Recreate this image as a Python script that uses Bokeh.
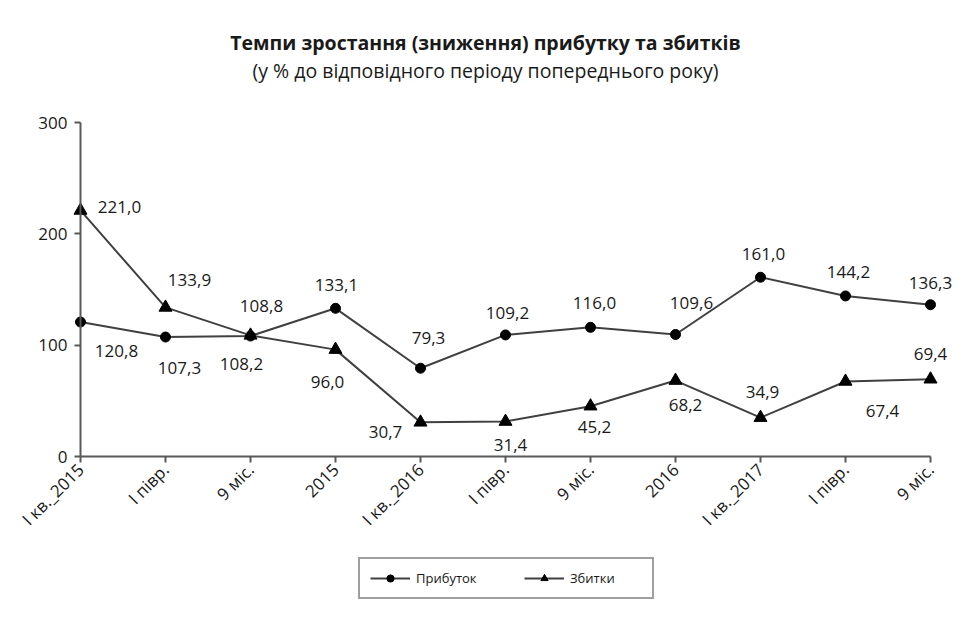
import math
from bokeh.plotting import figure
from bokeh.models import (ColumnDataSource, FixedTicker, LabelSet, Label, Legend, LegendItem)
from bokeh.core.properties import value
from bokeh.embed import file_html
from bokeh.resources import INLINE

# ---- data ----
categories = ["I кв._2015", "I півр.", "9 міс.", "2015", "I кв._2016", "I півр.",
              "9 міс.", "2016", "I кв._2017", "I півр.", "9 міс."]
profit = [120.8, 107.3, 108.2, 133.1, 79.3, 109.2, 116.0, 109.6, 161.0, 144.2, 136.3]
losses = [221.0, 133.9, 108.8, 96.0, 30.7, 31.4, 45.2, 68.2, 34.9, 67.4, 69.4]
profit_labels = ["120,8", "107,3", "108,2", "133,1", "79,3", "109,2", "116,0", "109,6", "161,0", "144,2", "136,3"]
losses_labels = ["221,0", "133,9", "108,8", "96,0", "30,7", "31,4", "45,2", "68,2", "34,9", "67,4", "69,4"]
y_ticks = [0, 100, 200, 300]
title_text = "Темпи зростання (зниження) прибутку та збитків"
subtitle_text = "(у % до відповідного періоду попереднього року)"

# label offsets in screen pixels (styling)
profit_dx = [36, 14, -9, 1, 8, 2, 4, 16, 3, 3, 0]
profit_dy = [-29, -31, -28, 23, 30, 22, 24, 31, 23, 24, 22]
losses_dx = [39, 24, 11, -8, -35, 5, 4, 10, 2, 37, 0]
losses_dy = [3, 27, 29, -32, -10, -23, -21, -24, 26, -30, 25]

xs = list(range(len(categories)))

FONT = "Open Sans"
TXT = "#1a1a1a"
LINE = "#404040"
AXIS = "#595959"

# layout (pixels)
W, H = 953, 620
AXIS_LEFT_PX = 80           # pixel position of the first category / y axis
LAST_TICK_PX = 930          # pixel position of the last category
Y_TOP_PX = 122              # pixel position of y = 300
Y_ZERO_PX = 456             # pixel position of y = 0
n = len(categories) - 1
px_per_x = (LAST_TICK_PX - AXIS_LEFT_PX) / n
x_start = -AXIS_LEFT_PX / px_per_x
x_end = (W - AXIS_LEFT_PX) / px_per_x
px_per_y = (Y_ZERO_PX - Y_TOP_PX) / y_ticks[-1]
y_start = -(H - Y_ZERO_PX) / px_per_y
y_end = Y_ZERO_PX / px_per_y

def data_x(px):
    return (px - AXIS_LEFT_PX) / px_per_x

def data_y(py):
    return (Y_ZERO_PX - py) / px_per_y

p = figure(width=W, height=H, output_backend="svg", toolbar_location=None,
           x_range=(x_start, x_end), y_range=(y_start, y_end),
           min_border_left=0, min_border_right=0, min_border_top=0, min_border_bottom=0)
p.outline_line_color = None
p.xgrid.visible = False
p.ygrid.visible = False
p.background_fill_color = "white"
p.border_fill_color = "white"

# titles
p.add_layout(Label(x=data_x(485), y=data_y(42), text=title_text, text_align="center",
                   text_baseline="middle", text_font=FONT, text_font_size="19.5px",
                   text_font_style="bold", text_color=TXT))
p.add_layout(Label(x=data_x(485), y=data_y(70), text=subtitle_text, text_align="center",
                   text_baseline="middle", text_font=FONT, text_font_size="19.5px",
                   text_color=TXT))

# axes
for ax in (p.xaxis[0], p.yaxis[0]):
    ax.axis_line_color = AXIS
    ax.axis_line_width = 2
    ax.major_tick_line_color = AXIS
    ax.major_tick_line_width = 2
    ax.major_tick_out = 6
    ax.major_tick_in = 0
    ax.minor_tick_line_color = None
    ax.major_label_text_font = FONT
    ax.major_label_text_font_size = "17px"
    ax.major_label_text_color = TXT

p.yaxis.ticker = FixedTicker(ticks=y_ticks)
p.yaxis.bounds = (y_ticks[0], y_ticks[-1])
p.yaxis.fixed_location = xs[0]
p.xaxis.ticker = FixedTicker(ticks=xs)
p.xaxis.bounds = (xs[0], xs[-1])
p.xaxis.fixed_location = y_ticks[0]
p.xaxis.major_label_overrides = {i: c for i, c in enumerate(categories)}
p.xaxis.major_label_orientation = math.pi / 4
p.xaxis.major_label_standoff = 4
p.yaxis.major_label_standoff = 7

src = ColumnDataSource(dict(x=xs, profit=profit, losses=losses,
                            pl=profit_labels, ll=losses_labels,
                            pdx=profit_dx, pdy=profit_dy, ldx=losses_dx, ldy=losses_dy))

l1 = p.line("x", "profit", source=src, line_color=LINE, line_width=2)
m1 = p.scatter("x", "profit", source=src, marker="circle", size=10,
               fill_color="black", line_color="black")
l2 = p.line("x", "losses", source=src, line_color=LINE, line_width=2)
m2 = p.scatter("x", "losses", source=src, marker="triangle", size=13,
               fill_color="black", line_color="black")

p.add_layout(LabelSet(x="x", y="profit", text="pl", source=src, x_offset="pdx", y_offset="pdy",
                      text_align="center", text_baseline="middle", text_font=value(FONT),
                      text_font_size="17px", text_color=TXT))
p.add_layout(LabelSet(x="x", y="losses", text="ll", source=src, x_offset="ldx", y_offset="ldy",
                      text_align="center", text_baseline="middle", text_font=value(FONT),
                      text_font_size="17px", text_color=TXT))

legend = Legend(items=[LegendItem(label="Прибуток", renderers=[l1, m1]),
                       LegendItem(label="Збитки", renderers=[l2, m2])],
                orientation="horizontal", location=(AXIS_LEFT_PX + 278, 21), margin=0,
                glyph_width=40, glyph_height=18, label_standoff=6, spacing=36,
                padding=10, label_width=72,
                label_text_font=FONT, label_text_font_size="13px", label_text_color=TXT,
                border_line_color="#404040", border_line_width=2,
                background_fill_alpha=1.0)
p.add_layout(legend, "center")

open("out.html", "w").write(file_html(p, INLINE))
